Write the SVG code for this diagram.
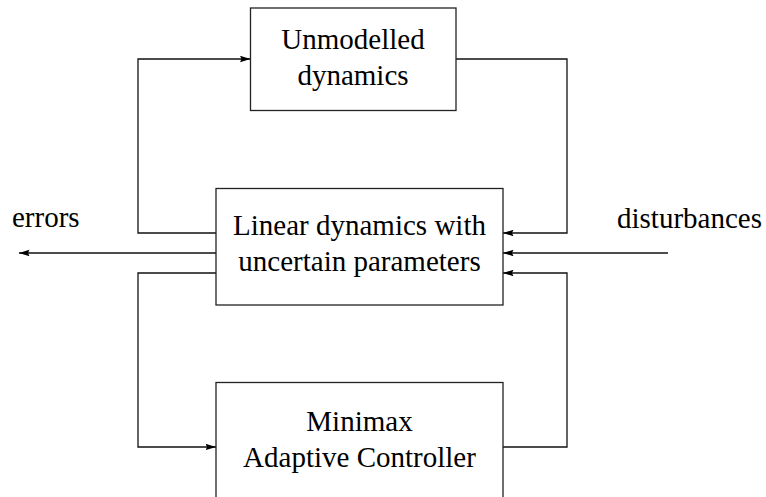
<svg xmlns="http://www.w3.org/2000/svg" width="766" height="497" viewBox="0 0 766 497">
  <defs>
    <marker id="arrow" markerUnits="userSpaceOnUse" markerWidth="11" markerHeight="7" refX="10.5" refY="3.25" orient="auto">
      <path d="M0,0 L10.5,3.25 L0,6.5 L1.5,3.25 z" fill="#000"/>
    </marker>
  </defs>
  <style>
    .box { fill: #fff; stroke: #222; stroke-width: 1.3; }
    .wire { fill: none; stroke: #111; stroke-width: 1.3; }
    text { font-family: 'Liberation Serif', 'Times New Roman', serif; font-size: 29px; fill: #000; }
    .mid { text-anchor: middle; }
  </style>
  <rect width="766" height="497" fill="#fff"/>

  <g id="connectors">
    <!-- upper loop: plant -> unmodelled dynamics -> plant -->
    <polyline class="wire" points="216,233 138,233 138,59 250.5,59" marker-end="url(#arrow)"/>
    <polyline class="wire" points="456,59 567,59 567,233 503,233" marker-end="url(#arrow)"/>
    <!-- external signals -->
    <polyline class="wire" points="668,253 503,253" marker-end="url(#arrow)"/>
    <polyline class="wire" points="216,253 19,253" marker-end="url(#arrow)"/>
    <!-- lower loop: plant -> controller -> plant -->
    <polyline class="wire" points="216,273 138,273 138,447 216,447" marker-end="url(#arrow)"/>
    <polyline class="wire" points="503,447 567,447 567,273 503,273" marker-end="url(#arrow)"/>
  </g>

  <g id="unmodelled">
    <rect class="box" x="250.5" y="8" width="205.5" height="102.5"/>
    <text class="mid" x="353" y="49">Unmodelled</text>
    <text class="mid" x="353" y="85">dynamics</text>
  </g>

  <g id="plant">
    <rect class="box" x="216" y="188.5" width="287" height="116.5"/>
    <text class="mid" x="359.5" y="235">Linear dynamics with</text>
    <text class="mid" x="359.5" y="271">uncertain parameters</text>
  </g>

  <g id="controller">
    <rect class="box" x="216" y="382.5" width="287" height="130"/>
    <text class="mid" x="359.5" y="431">Minimax</text>
    <text class="mid" x="359.5" y="466.5">Adaptive Controller</text>
  </g>

  <g id="labels">
    <text x="12" y="227">errors</text>
    <text x="617" y="228">disturbances</text>
  </g>
</svg>
